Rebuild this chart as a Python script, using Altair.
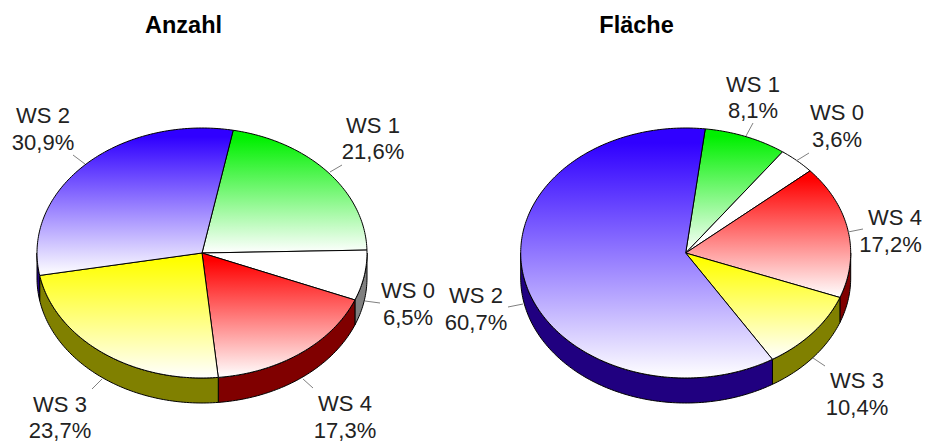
import math
import altair as alt

# ---- values ----
categories = ["WS 1", "WS 0", "WS 4", "WS 3", "WS 2"]
anzahl_values = [21.6, 6.5, 17.3, 23.7, 30.9]
flaeche_values = [8.1, 3.6, 17.2, 10.4, 60.7]
value_labels_anzahl = ["21,6%", "6,5%", "17,3%", "23,7%", "30,9%"]
value_labels_flaeche = ["8,1%", "3,6%", "17,2%", "10,4%", "60,7%"]

# ---- styles and layout ----
top_colors = {"WS 1": "#00f000", "WS 0": "#ffffff", "WS 4": "#ff0000", "WS 3": "#ffff00", "WS 2": "#3000ff"}
side_colors = {"WS 1": "#008000", "WS 0": "#808080", "WS 4": "#800000", "WS 3": "#808000", "WS 2": "#200080"}
RX, RY, DEPTH = 165, 125, 25
OFF = 8  # page margin

pies = [
    dict(title="Anzahl", tx=183.5, ty=33, cx=202, cy=253, start=10.9, values=anzahl_values, texts=value_labels_anzahl,
         labels={"WS 1": (373, 373, 133, 159), "WS 0": (408, 408, 298, 325), "WS 4": (345, 345, 411, 438), "WS 3": (60, 60, 412, 438), "WS 2": (43, 43, 123, 150)},
         leaders={"WS 1": (342, 165, 330, 172), "WS 0": (380, 303, 365, 301), "WS 4": (313, 388, 303, 379), "WS 3": (92, 389, 102, 379), "WS 2": (73, 155, 85, 164)}),
    dict(title="Fläche", tx=636.5, ty=33, cx=685.7, cy=253, start=6.8, values=flaeche_values, texts=value_labels_flaeche,
         labels={"WS 1": (753, 753, 92, 118), "WS 0": (837, 837, 120, 147), "WS 4": (895, 890.5, 225, 252), "WS 3": (857, 857, 388, 415), "WS 2": (476, 476, 303, 330)},
         leaders={"WS 1": (753, 123, 746, 136), "WS 0": (809, 153, 796, 161), "WS 4": (863, 229, 848, 232), "WS 3": (825, 366, 813, 358), "WS 2": (508, 307, 523, 304)}),
]


def rim(cx, cy, deg, dy=0):
    t = math.radians(deg)
    return [cx + RX * math.sin(t) - OFF, cy - RY * math.cos(t) + dy - OFF]


def arc_pts(cx, cy, a, b, dy=0):
    n = max(2, int(abs(b - a)) + 1)
    return [rim(cx, cy, a + (b - a) * i / (n - 1), dy) for i in range(n)]


def feature(ring):
    return {"type": "Feature", "properties": {}, "geometry": {"type": "Polygon", "coordinates": [ring + [ring[0]]]}}


def gradient(color):
    return alt.Gradient(gradient="linear", x1=0, y1=0, x2=0, y2=1,
                        stops=[alt.GradientStop(color=color, offset=0),
                               alt.GradientStop(color=color, offset=0.06),
                               alt.GradientStop(color="#ffffff", offset=1)])


def shape(ring, fill):
    return alt.Chart(alt.Data(values=[feature(ring)])).mark_geoshape(
        fill=fill, stroke="#000000", strokeWidth=1, strokeJoin="round"
    ).project(type="identity", scale=1, translate=[0, 0])


walls, tops, texts, rules = [], [], [], []
for p in pies:
    a = p["start"]
    for name, v, txt in zip(categories, p["values"], p["texts"]):
        b = a + v * 3.6
        lo, hi = max(a, 90), min(b, 270)
        if hi > lo:
            walls.append(shape(arc_pts(p["cx"], p["cy"], lo, hi) + arc_pts(p["cx"], p["cy"], hi, lo, DEPTH), side_colors[name]))
        ring = [[p["cx"] - OFF, p["cy"] - OFF]] + arc_pts(p["cx"], p["cy"], a, b)
        fill = "#ffffff" if name == "WS 0" else gradient(top_colors[name])
        tops.append(shape(ring, fill))
        lx1, lx2, y1, y2 = p["labels"][name]
        texts.append({"x": lx1 - OFF, "y": y1 - OFF, "t": name})
        texts.append({"x": lx2 - OFF, "y": y2 - OFF, "t": txt})
        x1, yy1, x2, yy2 = p["leaders"][name]
        rules.append({"x": x1 - OFF, "y": yy1 - OFF, "x2": x2 - OFF, "y2": yy2 - OFF})
        a = b

X = lambda f: alt.X(f, type="quantitative", scale=None, axis=None)
Y = lambda f: alt.Y(f, type="quantitative", scale=None, axis=None)

label_layer = alt.Chart(alt.Data(values=texts)).mark_text(
    font="Liberation Sans", fontSize=22, color="#222222", align="center", baseline="alphabetic"
).encode(x=X("x"), y=Y("y"), text="t:N")

title_layer = alt.Chart(alt.Data(values=[{"x": p["tx"] - OFF, "y": p["ty"] - OFF, "t": p["title"]} for p in pies])).mark_text(
    font="Liberation Sans", fontSize=23.5, fontWeight="bold", color="#000000", align="center", baseline="alphabetic"
).encode(x=X("x"), y=Y("y"), text="t:N")

rule_layer = alt.Chart(alt.Data(values=rules)).mark_rule(color="#808080", strokeWidth=1).encode(
    x=X("x"), y=Y("y"), x2="x2:Q", y2="y2:Q"
)

chart = alt.layer(*walls, *tops, rule_layer, label_layer, title_layer).properties(
    width=914, height=436, padding=0, autosize=alt.AutoSizeParams(type="none"), background="#ffffff"
).configure_view(stroke=None)

chart.save("out.html", embed_options={"renderer": "svg", "actions": False})
